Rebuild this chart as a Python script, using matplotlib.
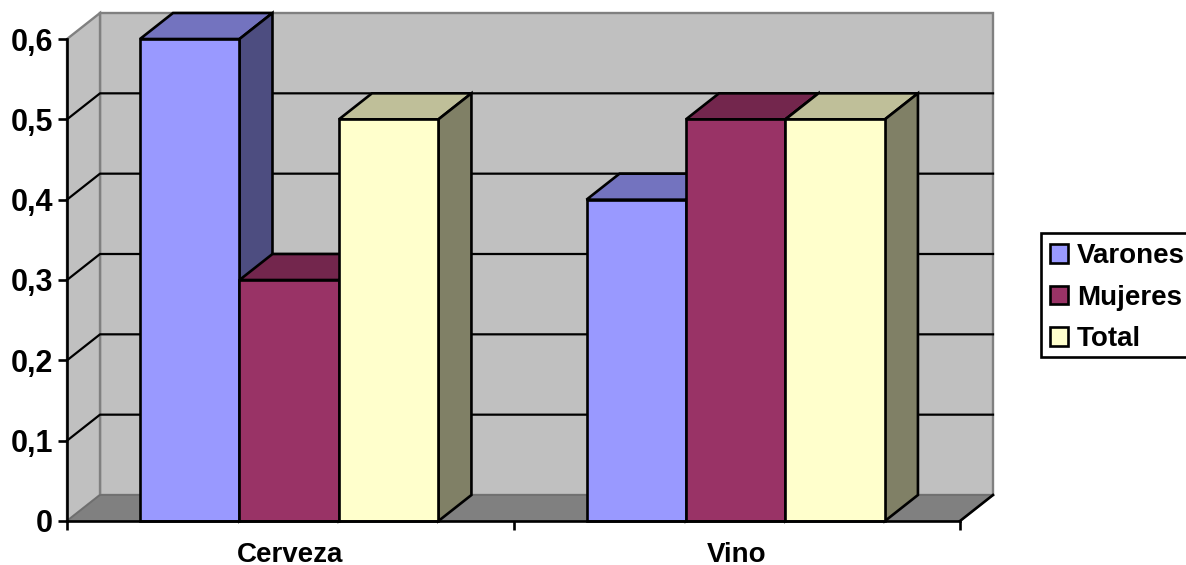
import numpy as np
import matplotlib
matplotlib.use("Agg")
import matplotlib.pyplot as plt
from matplotlib.patches import Patch, Polygon, Rectangle

categories = ["Cerveza", "Vino"]
series_names = ["Varones", "Mujeres", "Total"]
varones = [0.6, 0.4]
mujeres = [0.3, 0.5]
total = [0.5, 0.5]
y_ticks = [0, 0.1, 0.2, 0.3, 0.4, 0.5, 0.6]
y_labels = ["0", "0,1", "0,2", "0,3", "0,4", "0,5", "0,6"]

front_colors = ["#9999FF", "#993366", "#FFFFCC"]
top_colors = ["#7373BF", "#73264D", "#BFBF99"]
side_colors = ["#4D4D80", "#4D1A33", "#808066"]

plt.rcParams["font.family"] = ["Liberation Sans", "DejaVu Sans"]
plt.rcParams["font.weight"] = "bold"

W, H = 1186, 565
fig = plt.figure(figsize=(W / 100, H / 100), dpi=100)
ax = fig.add_axes([67 / W, 44 / H, 893 / W, 482 / H])
ax.set_xlim(0, 2)
ax.set_ylim(0, 0.6)

# oblique depth of the fake 3d box, in data units
dx = 33 / 446.5
dy = 26 / (482 / 0.6)
lw = 1.9
n_cat = len(categories)
xmax = float(n_cat)
ymax = y_ticks[-1]


def poly(pts, fc, ec="black", lw=lw, z=2):
    ax.add_patch(Polygon(pts, closed=True, facecolor=fc, edgecolor=ec, linewidth=lw,
                         joinstyle="miter", clip_on=False, zorder=z))


# walls and floor
poly([(dx, dy), (xmax + dx, dy), (xmax + dx, ymax + dy), (dx, ymax + dy)], "#C0C0C0", "#808080", 1.7, 1)
poly([(0, 0), (dx, dy), (dx, ymax + dy), (0, ymax)], "#C0C0C0", "#808080", 1.7, 1)
poly([(0, 0), (xmax, 0), (xmax + dx, dy), (dx, dy)], "#808080", "#6E6E6E", 1.2, 1)
ax.plot([xmax, xmax + dx], [0, dy], color="black", lw=lw, clip_on=False, zorder=1.5)

for t in y_ticks[1:-1]:
    ax.plot([0, dx, xmax + dx], [t, t + dy, t + dy], color="black", lw=1.6,
            clip_on=False, zorder=1.2)

# bars, left to right so that the nearer ones cover the sides
width = 0.2228
for i in range(n_cat):
    for j, vals in enumerate([varones, mujeres, total]):
        x0 = i + 0.1635 + j * width
        x1 = x0 + width
        v = vals[i]
        poly([(x0, v), (x1, v), (x1 + dx, v + dy), (x0 + dx, v + dy)], top_colors[j])
        poly([(x1, 0), (x1 + dx, dy), (x1 + dx, v + dy), (x1, v)], side_colors[j])
        poly([(x0, 0), (x1, 0), (x1, v), (x0, v)], front_colors[j])

for s in ["top", "right"]:
    ax.spines[s].set_visible(False)
for s in ["left", "bottom"]:
    ax.spines[s].set_linewidth(lw)
    ax.spines[s].set_zorder(5)

ax.set_yticks(y_ticks)
ax.set_yticklabels(y_labels, fontsize=22, fontweight="bold")
ax.set_xticks(np.arange(n_cat + 1))
ax.set_xticklabels([])
ax.set_xticks(np.arange(n_cat) + 0.5, minor=True)
ax.set_xticklabels(categories, minor=True, fontsize=20, fontweight="bold")
ax.tick_params(axis="both", which="major", length=6.5, width=lw, pad=3.5)
ax.tick_params(axis="x", which="minor", length=0, pad=15)

# legend box is drawn apart, the text sits low in it and runs past the right edge
fig.add_artist(Rectangle((1041 / W, (H - 357) / H), 160 / W, 124 / H, transform=fig.transFigure,
                         facecolor="white", edgecolor="black", linewidth=lw))
handles = [Patch(facecolor=c, edgecolor="black", linewidth=lw) for c in front_colors]
fig.legend(handles, series_names, loc="lower left", bbox_to_anchor=(1042 / W, (H - 360) / H),
           borderaxespad=0, frameon=False,
           prop={"size": 20, "weight": "bold"}, handlelength=0.68, handleheight=0.65,
           handletextpad=0.3, labelspacing=0.565, borderpad=0.27)

fig.savefig("out.png", dpi=100)
